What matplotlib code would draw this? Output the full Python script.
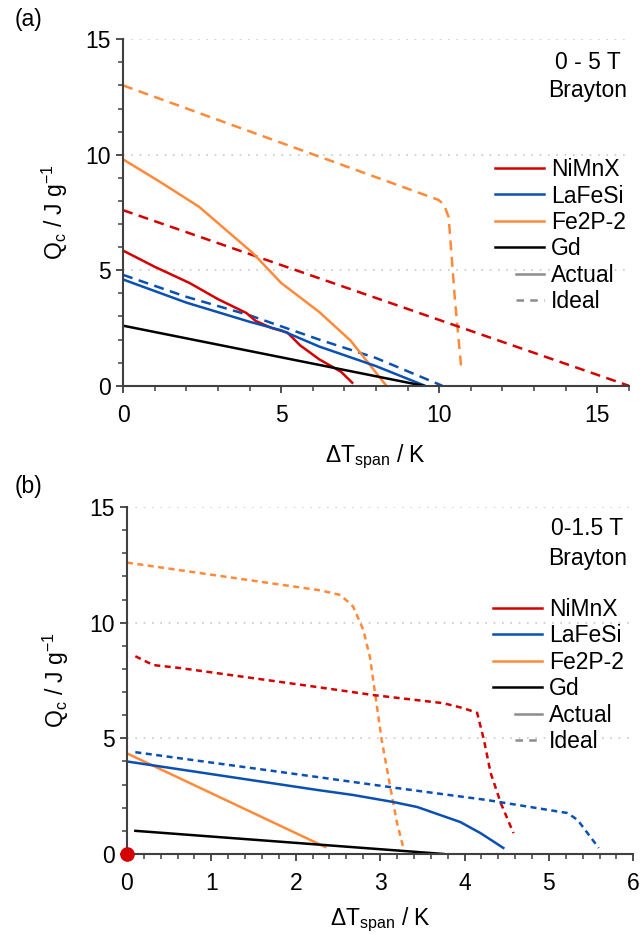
import numpy as np
import matplotlib
matplotlib.use("Agg")
import matplotlib.pyplot as plt
from matplotlib.lines import Line2D
from matplotlib.legend_handler import HandlerLine2D

plt.rcParams['font.family'] = ['Liberation Sans', 'DejaVu Sans']
plt.rcParams['mathtext.fontset'] = 'custom'
plt.rcParams['mathtext.rm'] = 'Liberation Sans'

RED = '#d40000'
BLUE = '#0a50b4'
ORANGE = '#ff8a3a'
BLACK = '#000000'
GREY = '#8c8c8c'
AXIS = '#404040'
FS = 16.5

# --- (a) 0 - 5 T ---
a_ni_act_x = [0, 1, 2.1, 3.0, 3.9, 4.2, 4.7, 5.2, 5.6, 6.2, 6.9, 7.25]
a_ni_act_y = [5.85, 5.15, 4.45, 3.75, 3.15, 2.8, 2.5, 2.3, 1.75, 1.15, 0.6, 0.13]
a_ni_id_x = [0, 16]
a_ni_id_y = [7.6, 0]
a_la_act_x = [0, 2, 4, 5, 6.2, 8, 9.55]
a_la_act_y = [4.6, 3.6, 2.77, 2.4, 1.7, 0.85, 0.0]
a_la_id_x = [0, 2, 4, 6.2, 8, 10.1]
a_la_id_y = [4.8, 3.85, 3.05, 2.0, 1.2, 0.0]
a_fe_act_x = [0, 1.2, 2.4, 4.1, 5.0, 6.2, 7.2, 8.3]
a_fe_act_y = [9.8, 8.8, 7.75, 5.75, 4.45, 3.2, 1.95, 0.05]
a_fe_id_x = [0, 9.97, 10.15, 10.3, 10.5, 10.7]
a_fe_id_y = [13.0, 8.05, 7.85, 7.3, 3.7, 0.75]
a_gd_act_x = [0, 9.5]
a_gd_act_y = [2.6, 0.0]

# --- (b) 0 - 1.5 T ---
b_ni_id_x = [0.1, 0.31, 0.63, 2.25, 2.92, 3.75, 3.99, 4.15, 4.23, 4.31, 4.43, 4.58]
b_ni_id_y = [8.55, 8.17, 8.04, 7.22, 6.87, 6.52, 6.3, 6.1, 4.93, 3.5, 2.2, 0.9]
b_la_act_x = [0, 2.25, 2.68, 3.15, 3.44, 3.95, 4.19, 4.46]
b_la_act_y = [4.0, 2.77, 2.55, 2.25, 2.03, 1.38, 0.9, 0.26]
b_la_id_x = [0.1, 2.25, 3.2, 4.27, 5.22, 5.34, 5.59]
b_la_id_y = [4.4, 3.33, 2.85, 2.33, 1.77, 1.47, 0.26]
b_fe_act_x = [0, 2.35]
b_fe_act_y = [4.35, 0.3]
b_fe_id_x = [0, 2.29, 2.53, 2.68, 2.8, 2.88, 2.94, 3.02, 3.12, 3.2, 3.28]
b_fe_id_y = [12.6, 11.4, 11.2, 10.7, 9.7, 8.5, 6.95, 4.9, 2.9, 1.35, 0.2]
b_gd_act_x = [0.1, 3.75]
b_gd_act_y = [1.0, 0.0]

materials = ['NiMnX', 'LaFeSi', 'Fe2P-2', 'Gd']
mat_colors = [RED, BLUE, ORANGE, BLACK]
LW = 1.8


class ShortLine(HandlerLine2D):
    # legend sample drawn on the right half of the handle box only
    def get_xdata(self, legend, xdescent, ydescent, width, height, fontsize):
        xdata = np.array([-xdescent + width * 0.44, -xdescent + width])
        return xdata, xdata


def style_axes(ax, xmax, xmajor, xminor, xlab_y, ylab_x):
    ax.set_xlim(0, xmax)
    ax.set_ylim(0, 15)
    ax.set_xticks(np.arange(0, xmax + 0.001, xmajor))
    ax.set_xticks(np.arange(0, xmax + 0.001, xminor), minor=True)
    ax.set_yticks([0, 5, 10, 15])
    ax.set_yticks(np.arange(0, 15.001, 1), minor=True)
    for s in ['top', 'right']:
        ax.spines[s].set_visible(False)
    for s in ['left', 'bottom']:
        ax.spines[s].set_color(AXIS)
        ax.spines[s].set_linewidth(1.5)
    ax.tick_params(which='major', length=5, width=1.3, color=AXIS,
                   labelsize=FS)
    ax.tick_params(axis='x', which='major', pad=8)
    ax.tick_params(axis='y', which='major', pad=4)
    ax.tick_params(which='minor', length=3.5, width=1.1, color=AXIS)
    ax.yaxis.grid(True, which='major', linestyle=(0, (1, 4)),
                  color='#c8c8c8', linewidth=1.2)
    ax.set_axisbelow(True)
    ax.set_xlabel(r'ΔT$_\mathregular{span}$ / K', fontsize=FS, va='baseline')
    ax.set_ylabel(r'Q$_\mathregular{c}$ / J g$^\mathregular{-1}$', fontsize=FS,
                  va='baseline')
    ax.xaxis.set_label_coords(0.5, xlab_y)
    ax.yaxis.set_label_coords(ylab_x, 0.5)


def add_legend(ax, anchor, dash):
    handles = [Line2D([], [], color=c, lw=LW) for c in mat_colors]
    handles.append(Line2D([], [], color=GREY, lw=LW))
    handles.append(Line2D([], [], color=GREY, lw=LW, linestyle=dash))
    labels = materials + ['Actual', 'Ideal']
    hmap = {handles[4]: ShortLine(), handles[5]: ShortLine()}
    ax.legend(handles, labels, loc='upper left', bbox_to_anchor=anchor,
              frameon=False, fontsize=FS, handlelength=2.15,
              handletextpad=0.3, labelspacing=0.15, borderpad=0,
              borderaxespad=0, handler_map=hmap)


fig = plt.figure(figsize=(6.41, 9.34), dpi=100)
ax1 = fig.add_axes([0.192, 0.587, 0.789, 0.371])
ax2 = fig.add_axes([0.198, 0.0857, 0.79, 0.3714])

dash_a = (0, (4, 2.6))
ax1.plot(a_fe_id_x, a_fe_id_y, color=ORANGE, lw=LW, linestyle=dash_a)
ax1.plot(a_ni_id_x, a_ni_id_y, color=RED, lw=LW, linestyle=dash_a, clip_on=False)
ax1.plot(a_la_id_x, a_la_id_y, color=BLUE, lw=LW, linestyle=dash_a)
ax1.plot(a_fe_act_x, a_fe_act_y, color=ORANGE, lw=LW)
ax1.plot(a_ni_act_x, a_ni_act_y, color=RED, lw=LW)
ax1.plot(a_la_act_x, a_la_act_y, color=BLUE, lw=LW)
ax1.plot(a_gd_act_x, a_gd_act_y, color=BLACK, lw=LW)
style_axes(ax1, 16, 5, 1, -0.219, -0.119)
ax1.text(0.919, 0.934, '0 - 5 T', transform=ax1.transAxes, ha='center',
         va='center', fontsize=FS)
ax1.text(0.919, 0.853, 'Brayton', transform=ax1.transAxes, ha='center',
         va='center', fontsize=FS)
add_legend(ax1, (0.735, 0.657), (0, (3, 2.5)))

dash_b = (0, (2.4, 1.8))
ax2.plot(b_fe_id_x, b_fe_id_y, color=ORANGE, lw=LW, linestyle=dash_b)
ax2.plot(b_ni_id_x, b_ni_id_y, color=RED, lw=LW, linestyle=dash_b)
ax2.plot(b_la_id_x, b_la_id_y, color=BLUE, lw=LW, linestyle=dash_b)
ax2.plot(b_fe_act_x, b_fe_act_y, color=ORANGE, lw=LW)
ax2.plot(b_la_act_x, b_la_act_y, color=BLUE, lw=LW)
ax2.plot(b_gd_act_x, b_gd_act_y, color=BLACK, lw=LW)
ax2.plot([0], [0], 'o', color=RED, ms=9.5, clip_on=False, zorder=5)
style_axes(ax2, 6, 1, 0.2, -0.205, -0.125)
ax2.text(0.909, 0.939, '0-1.5 T', transform=ax2.transAxes, ha='center',
         va='center', fontsize=FS)
ax2.text(0.909, 0.853, 'Brayton', transform=ax2.transAxes, ha='center',
         va='center', fontsize=FS)
add_legend(ax2, (0.723, 0.738), (0, (3, 2.5)))

fig.text(0.044, 0.979, '(a)', ha='center', va='center', fontsize=FS)
fig.text(0.044, 0.479, '(b)', ha='center', va='center', fontsize=FS)

fig.savefig('out.png', dpi=100)
